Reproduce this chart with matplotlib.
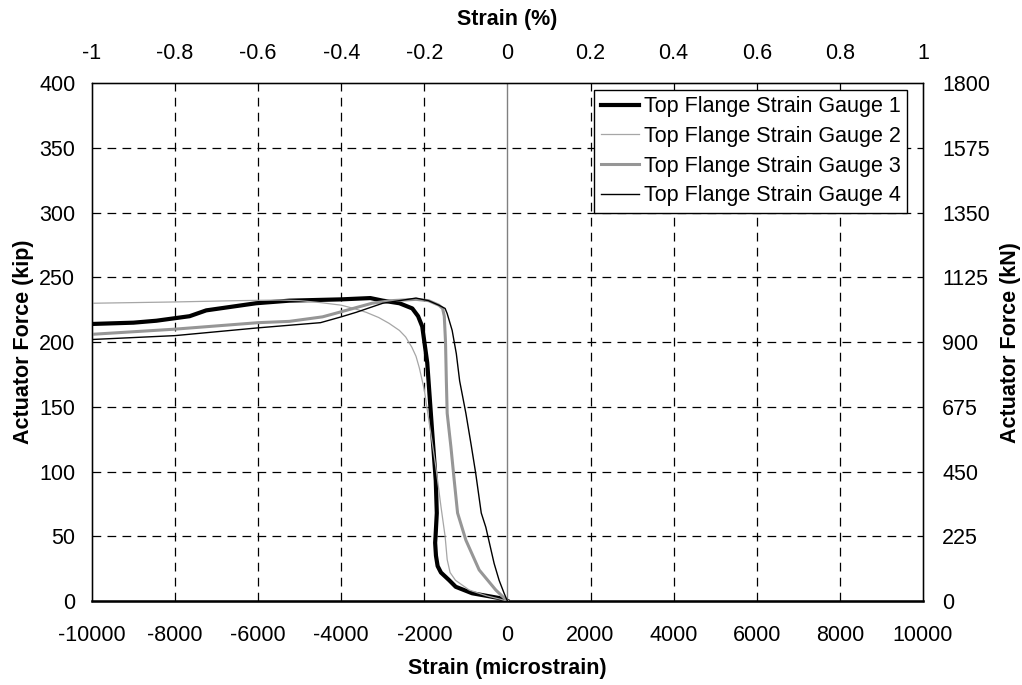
import numpy as np
import matplotlib
matplotlib.use('Agg')
import matplotlib.pyplot as plt
from matplotlib import rcParams

rcParams['font.family'] = 'sans-serif'
rcParams['font.sans-serif'] = ['Liberation Sans', 'Arial', 'DejaVu Sans']
rcParams['font.size'] = 15.5
rcParams['axes.unicode_minus'] = False

# strain in microstrain, force in kip
x1 = [-10000, -9000, -8450, -7650, -7250, -6050, -5250, -4000, -3300, -3000, -2600, -2290,
      -2150, -2050, -1930, -1810, -1725, -1700, -1730, -1740, -1720, -1680, -1600, -1400,
      -1245, -850, -200, 0]
y1 = [214, 215, 216.5, 220, 224.5, 230, 232, 233, 234, 232, 230, 226,
      220, 212, 184, 130, 93, 68, 50, 45, 35, 27, 22, 16,
      11, 6, 2.3, 0]

x2 = [-10000, -8000, -6500, -5500, -5000, -4500, -4000, -3700, -3400, -3100, -2850, -2600,
      -2450, -2300, -2200, -2120, -2000, -1880, -1720, -1600, -1500, -1450, -1380, -1250,
      -920, -500, 0]
y2 = [230, 231, 232, 232.5, 232, 230.5, 228.5, 226, 223, 219, 214.5, 209,
      204, 196, 189, 180, 163, 137, 103, 73, 50, 32, 22, 16,
      8.5, 4, 0]

x3 = [-10000, -8000, -6000, -5250, -4450, -4050, -3600, -3260, -2800, -2200, -1900, -1650,
      -1560, -1520, -1490, -1470, -1450, -1360, -1280, -1200, -1000, -680, -280, 0]
y3 = [206, 210, 215, 216, 219.5, 223, 227, 230, 232, 233, 232, 228.5,
      226, 220, 200, 170, 145, 119, 93, 68, 47, 24, 8.5, 0]

x4 = [-10000, -8000, -6000, -4500, -4000, -3640, -3000, -2500, -2200, -1900, -1650, -1500,
      -1450, -1330, -1230, -1150, -1000, -870, -765, -630, -520, -320, -200, -80, 0]
y4 = [202, 205, 211, 215, 219.5, 223, 230, 232.5, 234, 232, 228.5, 226,
      222, 209, 191, 170, 145, 120, 99, 68, 57, 29, 16, 6, 0]

labels = ['Top Flange Strain Gauge 1', 'Top Flange Strain Gauge 2',
          'Top Flange Strain Gauge 3', 'Top Flange Strain Gauge 4']

fig = plt.figure(figsize=(10.22, 6.85), dpi=100)
ax = fig.add_axes([0.090, 0.1226, 0.813, 0.756])

ax.set_xlim(-10000, 10000)
ax.set_ylim(0, 400)
ax.set_xticks(np.arange(-10000, 10001, 2000))
ax.set_yticks(np.arange(0, 401, 50))
ax.tick_params(length=0)
ax.tick_params(axis='x', pad=17)
ax.tick_params(axis='y', pad=12)

# grid
for gx in range(-8000, 10000, 2000):
    if gx != 0:
        ax.axvline(gx, color='black', lw=0.9, ls=(0, (7, 5)), zorder=1)
for gy in range(50, 400, 50):
    ax.axhline(gy, color='black', lw=0.9, ls=(0, (7, 5)), zorder=1)
ax.axvline(0, color='#808080', lw=1.0, zorder=1)

ax.plot(x1, y1, color='black', lw=3.0, label=labels[0], zorder=3)
ax.plot(x2, y2, color='#a6a6a6', lw=0.9, label=labels[1], zorder=3)
ax.plot(x3, y3, color='#969696', lw=2.2, label=labels[2], zorder=3)
ax.plot(x4, y4, color='black', lw=1.0, label=labels[3], zorder=3)

for s in ax.spines.values():
    s.set_linewidth(1.0)
ax.spines['bottom'].set_linewidth(1.8)

ax.set_xlabel('Strain (microstrain)', fontweight='bold', labelpad=9)
ax.set_ylabel('Actuator Force (kip)', fontweight='bold', labelpad=4)

leg = ax.legend(loc='upper right', bbox_to_anchor=(0.981, 0.987), fancybox=False,
                edgecolor='black', framealpha=1, handlelength=1.8, handletextpad=0.2,
                labelspacing=0.4, borderpad=0.3, borderaxespad=0)
leg.get_frame().set_linewidth(1.0)

# right axis in kN
ax_r = ax.twinx()
ax_r.set_ylim(0, 1800)
ax_r.set_yticks(np.arange(0, 1801, 225))
ax_r.tick_params(length=0, pad=14)
ax_r.set_ylabel('Actuator Force (kN)', fontweight='bold', labelpad=7)

# top axis in percent
ax_t = ax.twiny()
ax_t.set_xlim(-1, 1)
ax_t.set_xticks(np.arange(-1, 1.01, 0.2))
ax_t.set_xticklabels(['-1', '-0.8', '-0.6', '-0.4', '-0.2', '0', '0.2', '0.4', '0.6', '0.8', '1'])
ax_t.tick_params(length=0, pad=14)
ax_t.set_xlabel('Strain (%)', fontweight='bold', labelpad=13)

fig.savefig('out.png', dpi=100)
